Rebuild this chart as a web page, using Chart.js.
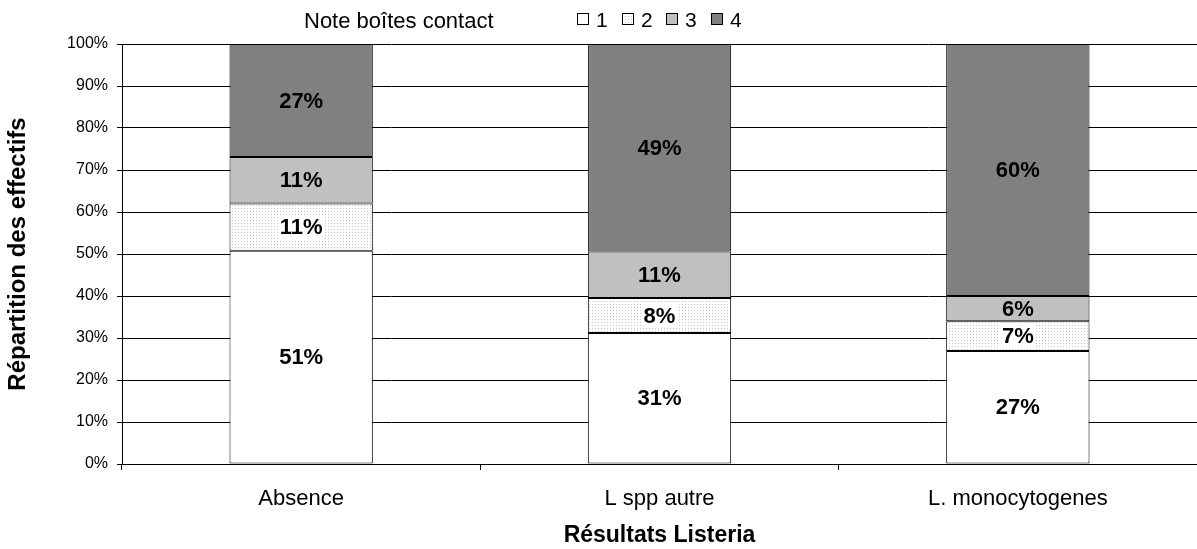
<!DOCTYPE html>
<html>
<head>
<meta charset="utf-8">
<script src="https://cdn.jsdelivr.net/npm/chart.js@4/dist/chart.umd.min.js"></script>
<style>
  html, body { margin: 0; padding: 0; background: #fff; }
  #wrap { width: 1197px; height: 549px; position: relative; }
</style>
</head>
<body>
<div id="wrap"><canvas id="chart"></canvas></div>
<script>
// data
const categories = ["Absence", "L spp autre", "L. monocytogenes"];
const note1 = [50.8, 31.2, 26.9];
const note2 = [11.2, 8.3, 7.1];
const note3 = [11.1, 11.1, 6.0];
const note4 = [26.9, 49.4, 60.0];
const yTicks = [0, 10, 20, 30, 40, 50, 60, 70, 80, 90, 100];

const FONT = "'Liberation Sans', Arial, sans-serif";

// dotted fill for note 2
function dotPattern() {
  const c = document.createElement("canvas");
  c.width = 3;
  c.height = 3;
  const g = c.getContext("2d");
  g.fillStyle = "#ffffff";
  g.fillRect(0, 0, 3, 3);
  g.fillStyle = "#c4c4c4";
  g.fillRect(1, 1, 1, 1);
  return g.createPattern(c, "repeat");
}

const pat = dotPattern();

// labels in the middle of each segment
const segmentLabels = {
  id: "segmentLabels",
  afterDatasetsDraw(chart) {
    const ctx = chart.ctx;
    ctx.save();
    ctx.font = "bold 22px " + FONT;
    ctx.textAlign = "center";
    ctx.textBaseline = "middle";
    chart.data.datasets.forEach((ds, i) => {
      const meta = chart.getDatasetMeta(i);
      meta.data.forEach((bar, j) => {
        const txt = Math.round(ds.data[j]) + "%";
        const y = (bar.y + bar.base) / 2;
        if (ds.whiteBox) {
          const w = ctx.measureText(txt).width + 4;
          const top = Math.max(y - 12, bar.y + 1);
          const bot = Math.min(y + 12, bar.base - 1);
          ctx.fillStyle = "#fff";
          ctx.fillRect(bar.x - w / 2, top, w, bot - top);
        }
        ctx.fillStyle = "#000";
        ctx.fillText(txt, bar.x, y + 1);
      });
    });
    ctx.restore();
  }
};

// legend line at the top: title + small squares
const topLegend = {
  id: "topLegend",
  afterDraw(chart) {
    const ctx = chart.ctx;
    ctx.save();
    ctx.textBaseline = "middle";
    ctx.fillStyle = "#000";
    ctx.font = "22px " + FONT;
    ctx.fillText("Note boîtes contact", 304, 22);
    ctx.font = "21px " + FONT;
    chart.data.datasets.forEach((ds, i) => {
      const x = Math.round(577 + i * 44.7);
      ctx.fillStyle = ds.backgroundColor;
      ctx.fillRect(x, 13, 12, 12);
      ctx.strokeStyle = "#000";
      ctx.lineWidth = 1;
      ctx.strokeRect(x + 0.5, 13.5, 11, 11);
      ctx.fillStyle = "#000";
      ctx.fillText(ds.label, x + 19, 21);
    });
    ctx.restore();
  }
};

function mkSet(label, data, bg, whiteBox) {
  return {
    label: label,
    data: data,
    backgroundColor: bg,
    borderColor: "#000",
    borderWidth: 1,
    borderSkipped: false,
    whiteBox: whiteBox,
    barPercentage: 0.4,
    categoryPercentage: 1.0
  };
}

new Chart(document.getElementById("chart"), {
  type: "bar",
  data: {
    labels: categories,
    datasets: [
      mkSet("1", note1, "#ffffff", false),
      mkSet("2", note2, pat, true),
      mkSet("3", note3, "#c0c0c0", false),
      mkSet("4", note4, "#808080", false)
    ]
  },
  options: {
    responsive: true,
    maintainAspectRatio: false,
    animation: false,
    layout: { padding: { top: 44, right: 0, left: 0, bottom: 0 } },
    plugins: {
      legend: { display: false },
      tooltip: { enabled: false }
    },
    scales: {
      x: {
        stacked: true,
        afterFit(axis) { axis.height = 85; },
        grid: {
          display: true,
          offset: true,
          drawOnChartArea: false,
          color: "#000",
          tickLength: 6
        },
        border: { color: "#000" },
        ticks: {
          color: "#000",
          padding: 16,
          font: { family: FONT, size: 22 }
        },
        title: {
          display: true,
          text: "Résultats Listeria",
          color: "#000",
          font: { family: FONT, size: 23, weight: "bold" },
          padding: { top: 0, bottom: 0 }
        }
      },
      y: {
        stacked: true,
        min: 0,
        max: 100,
        afterFit(axis) { axis.width = 122; },
        afterBuildTicks(axis) {
          axis.ticks = yTicks.map((v) => ({ value: v }));
        },
        grid: { color: "#000", tickLength: 5 },
        border: { color: "#000" },
        ticks: {
          color: "#000",
          padding: 9,
          font: { family: FONT, size: 16 },
          callback: (v) => v + "%"
        },
        title: {
          display: true,
          text: "Répartition des effectifs",
          color: "#000",
          font: { family: FONT, size: 24, weight: "bold" },
          padding: { top: 4, bottom: 0 }
        }
      }
    }
  },
  plugins: [segmentLabels, topLegend]
});
</script>
</body>
</html>
